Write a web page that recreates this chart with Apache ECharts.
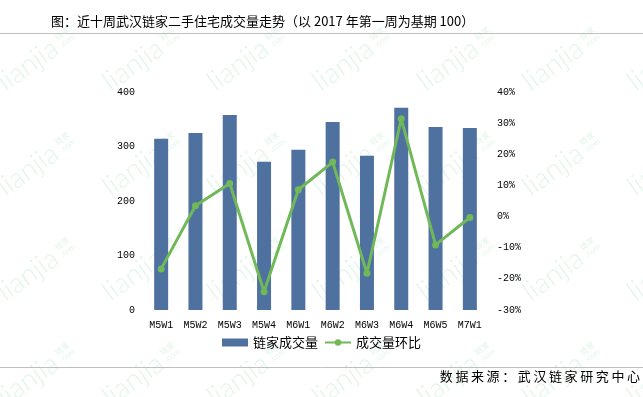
<!DOCTYPE html>
<html>
<head>
<meta charset="utf-8">
<script src="https://cdn.jsdelivr.net/npm/echarts@6/dist/echarts.min.js"></script>
<style>
  html, body { margin: 0; padding: 0; background: #fff; }
  #chart { width: 643px; height: 397px; }
</style>
</head>
<body>
<div id="chart"></div>
<script>
var weeks = ['M5W1', 'M5W2', 'M5W3', 'M5W4', 'M6W1', 'M6W2', 'M6W3', 'M6W4', 'M6W5', 'M7W1'];
var volume = [314, 325, 358, 272, 294, 345, 283, 371, 336, 334];
var momChange = [-16.8, 3.5, 10.6, -24.1, 8.6, 17.5, -18.2, 31.4, -9.1, -0.3];

var cjk = '"Noto Sans CJK SC", sans-serif';
var mono = '"Liberation Mono", "DejaVu Sans Mono", monospace';

// faint "lianjia" watermark pattern behind the chart
var wmColor = '#e3f5ea';
var marks = [];
for (var r = 0; r < 5; r++) {
  for (var c = 0; c < 7; c++) {
    marks.push({
      type: 'group', x: 28 + c * 105, y: -40 + r * 105, rotation: 0.62, z: -10, silent: true,
      children: [
        { type: 'text', x: 0, y: 0, style: { text: 'lianjia', fontSize: 28, fontFamily: 'Lato', fontWeight: 300, fill: wmColor, align: 'center', verticalAlign: 'middle' } },
        { type: 'text', x: 38, y: -10, style: { text: '链家', fontSize: 8, fontFamily: cjk, fill: wmColor } },
        { type: 'text', x: 38, y: -1, style: { text: '.com', fontSize: 8, fontFamily: 'Lato', fill: wmColor } }
      ]
    });
  }
}

var myChart = echarts.init(document.getElementById('chart'));
var option = {
  backgroundColor: '#fff',
  title: {
    text: '图：近十周武汉链家二手住宅成交量走势（以 2017 年第一周为基期 100）',
    left: 46,
    top: 10,
    textStyle: { fontSize: 13, fontWeight: 'normal', color: '#000', fontFamily: cjk }
  },
  graphic: marks.concat([
    { type: 'line', shape: { x1: 0, y1: 33.5, x2: 643, y2: 33.5 }, style: { stroke: '#bfbfbf', lineWidth: 1 } },
    { type: 'line', shape: { x1: 0, y1: 367.5, x2: 643, y2: 367.5 }, style: { stroke: '#bfbfbf', lineWidth: 1 } },
    { type: 'text', right: 3, top: 370, style: { text: '数\u2009据\u2009来\u2009源\u2009：\u2009武\u2009汉\u2009链\u2009家\u2009研\u2009究\u2009中\u2009心', fontSize: 13, fill: '#000', fontFamily: cjk } }
  ]),
  legend: {
    bottom: 43,
    left: 'center',
    itemGap: 6,
    itemWidth: 26,
    itemHeight: 8,
    textStyle: { fontSize: 13, color: '#000', fontFamily: cjk },
    data: [
      { name: '链家成交量', icon: 'rect' },
      { name: '成交量环比' }
    ]
  },
  grid: { left: 144, right: 156, top: 92, bottom: 87 },
  xAxis: {
    type: 'category',
    data: weeks,
    axisLine: { show: false },
    axisTick: { show: false },
    axisLabel: { fontSize: 10, color: '#000', fontFamily: mono, margin: 10, interval: 0 }
  },
  yAxis: [
    {
      type: 'value', min: 0, max: 400, interval: 100,
      splitLine: { show: false },
      axisLine: { show: false },
      axisTick: { show: false },
      axisLabel: { fontSize: 10, color: '#000', fontFamily: mono, margin: 9 }
    },
    {
      type: 'value', min: -30, max: 40, interval: 10,
      splitLine: { show: false },
      axisLine: { show: false },
      axisTick: { show: false },
      axisLabel: { fontSize: 10, color: '#000', fontFamily: mono, margin: 10, formatter: '{value}%' }
    }
  ],
  series: [
    {
      name: '链家成交量',
      type: 'bar',
      data: volume,
      barWidth: 14,
      itemStyle: { color: '#4e71a0' }
    },
    {
      name: '成交量环比',
      type: 'line',
      yAxisIndex: 1,
      data: momChange,
      symbol: 'circle',
      symbolSize: 7,
      lineStyle: { color: '#70b858', width: 3 },
      itemStyle: { color: '#70b858' }
    }
  ]
};
myChart.setOption(option);
</script>
</body>
</html>
